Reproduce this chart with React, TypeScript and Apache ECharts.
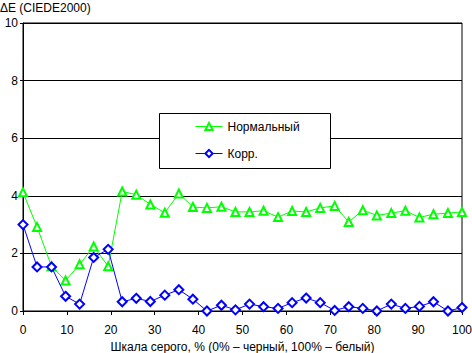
import React, { useEffect, useRef } from "react";
import * as echarts from "echarts";

const xValues = [0, 3.2, 6.5, 9.7, 12.9, 16.1, 19.4, 22.6, 25.8, 29.0, 32.3, 35.5, 38.7, 41.9, 45.2, 48.4, 51.6, 54.8, 58.1, 61.3, 64.5, 67.7, 71.0, 74.2, 77.4, 80.6, 83.9, 87.1, 90.3, 93.5, 96.8, 100];
const normalValues = [4.12, 2.92, 1.55, 1.06, 1.62, 2.24, 1.55, 4.15, 4.04, 3.7, 3.41, 4.08, 3.61, 3.58, 3.62, 3.44, 3.44, 3.48, 3.26, 3.47, 3.44, 3.58, 3.65, 3.09, 3.5, 3.32, 3.4, 3.48, 3.25, 3.36, 3.4, 3.44];
const corrValues = [3.0, 1.53, 1.53, 0.51, 0.24, 1.86, 2.14, 0.32, 0.44, 0.33, 0.55, 0.74, 0.41, 0.0, 0.2, 0.04, 0.24, 0.15, 0.09, 0.29, 0.45, 0.29, 0.02, 0.15, 0.09, 0.0, 0.24, 0.09, 0.16, 0.32, 0.0, 0.12];
const seriesNames = ["Нормальный", "Корр."];
const yTitle = "ΔE (CIEDE2000)";
const xTitle = "Шкала серого, % (0% – черный, 100% – белый)";

const FONT = "Arial, 'Liberation Sans', sans-serif";

export default function App() {
  const ref = useRef<HTMLDivElement>(null);
  useEffect(() => {
    if (!ref.current) return;
    const chart = echarts.init(ref.current, undefined, { renderer: "svg" });
    chart.setOption({
      animation: false,
      backgroundColor: "#fff",
      textStyle: { fontFamily: FONT, color: "#000" },
      grid: { left: 23, right: 10, top: 23, bottom: 42, outerBoundsMode: "none", containLabel: false, show: true, borderColor: "#000", borderWidth: 1, backgroundColor: "transparent" },
      graphic: [
        { type: "text", x: 0, y: 2, style: { text: yTitle, fontSize: 12, fontFamily: FONT, fill: "#000" } },
        { type: "rect", z: 5, shape: { x: 159.5, y: 113.5, width: 171, height: 55 }, style: { fill: "#fff", stroke: "#000", lineWidth: 1 } },
      ],
      legend: {
        orient: "vertical",
        left: 195,
        top: 119,
        z: 10,
        padding: 0,
        itemGap: 12,
        itemWidth: 27,
        itemHeight: 9,
        itemStyle: { borderWidth: 1 },
        lineStyle: { width: 1 },
        textStyle: { fontSize: 12, fontFamily: FONT, color: "#000", lineHeight: 15 },
        data: seriesNames,
      },
      xAxis: {
        type: "value",
        min: 0,
        max: 100,
        interval: 10,
        name: xTitle,
        nameLocation: "middle",
        nameGap: 28,
        nameTextStyle: { fontSize: 12, fontFamily: FONT, color: "#000" },
        axisLine: { show: true, lineStyle: { color: "#000", width: 1 } },
        axisTick: { show: true, length: 4, lineStyle: { color: "#000" } },
        axisLabel: { fontSize: 12, color: "#000", margin: 13, fontFamily: FONT },
        splitLine: { show: false },
      },
      yAxis: {
        type: "value",
        min: 0,
        max: 10,
        interval: 2,
        axisLine: { show: true, lineStyle: { color: "#000", width: 1 } },
        axisTick: { show: true, length: 3, lineStyle: { color: "#000" } },
        axisLabel: { fontSize: 12, color: "#000", margin: 5, fontFamily: FONT },
        splitLine: { show: true, lineStyle: { color: "#000", width: 1 } },
      },
      series: [
        {
          name: seriesNames[0],
          type: "line",
          data: xValues.map((x, i) => [x, normalValues[i]]),
          symbol: "emptyTriangle",
          symbolSize: 8,
          showAllSymbol: true,
          lineStyle: { color: "#00FF00", width: 1 },
          itemStyle: { color: "#00FF00", borderColor: "#00FF00", borderWidth: 1 },
          emphasis: { disabled: true },
          z: 2,
        },
        {
          name: seriesNames[1],
          type: "line",
          data: xValues.map((x, i) => [x, corrValues[i]]),
          symbol: "emptyDiamond",
          symbolSize: 9,
          showAllSymbol: true,
          lineStyle: { color: "#0000FF", width: 1 },
          itemStyle: { color: "#0000FF", borderColor: "#0000FF", borderWidth: 1 },
          emphasis: { disabled: true },
          z: 3,
        },
      ],
    });
    return () => chart.dispose();
  }, []);
  return <div ref={ref} style={{ position: "fixed", left: 0, top: 0, width: 472, height: 353 }} />;
}
